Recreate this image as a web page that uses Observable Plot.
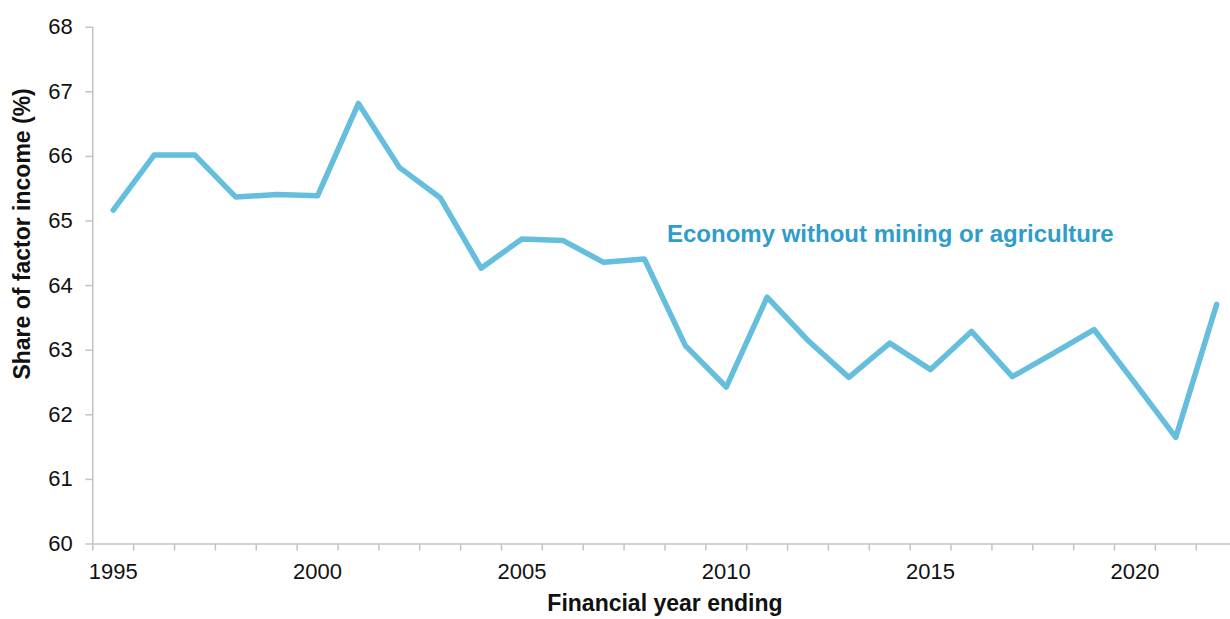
<!DOCTYPE html>
<html>
<head>
<meta charset="utf-8">
<script src="https://cdn.jsdelivr.net/npm/d3@7"></script>
<script src="https://cdn.jsdelivr.net/npm/@observablehq/plot@0.6"></script>
<style>
  html, body { margin: 0; padding: 0; background: #fff; }
  #chart { width: 1230px; height: 619px; overflow: hidden; }
</style>
</head>
<body>
<div id="chart"></div>
<script>
const years = [1995,1996,1997,1998,1999,2000,2001,2002,2003,2004,2005,2006,2007,2008,2009,2010,2011,2012,2013,2014,2015,2016,2017,2018,2019,2020,2021,2022];
const shares = [65.17,66.02,66.02,65.37,65.41,65.39,66.82,65.83,65.36,64.27,64.72,64.70,64.36,64.41,63.07,62.43,63.82,63.15,62.58,63.11,62.70,63.29,62.59,62.95,63.32,62.49,61.65,63.71];
const yTicks = [60,61,62,63,64,65,66,67,68];
const xTickLabels = [1995,2000,2005,2010,2015,2020];
const seriesLabel = [{text: "Economy without mining or agriculture", year: 2008.55, value: 64.79}];
const yTitle = "Share of factor income (%)";
const xTitle = "Financial year ending";

const rows = years.map((y, i) => ({year: y, share: shares[i]}));
const boundaries = [years[0] - 0.5, ...years.map(y => y + 0.5)];
const xMin = boundaries[0], xMax = boundaries[boundaries.length - 1];

const axisColor = "#c3c3c3";
const font = "'Liberation Sans', Arial, sans-serif";

const chart = Plot.plot({
  width: 1230,
  height: 619,
  marginTop: 26.7,
  marginBottom: 75.5,
  marginLeft: 92.3,
  marginRight: 0,
  style: {fontFamily: font, background: "#fff", overflow: "visible"},
  x: {domain: [xMin, xMax], range: [92.3, 1236.6]},
  y: {domain: [60, 68]},
  marks: [
    Plot.axisY({ticks: yTicks, tickSize: 7, tickPadding: 13, stroke: axisColor, strokeWidth: 1.5, fontSize: 22, fill: "#111", label: null, tickFormat: d => String(d)}),
    Plot.axisX({ticks: boundaries, tickSize: 7, stroke: axisColor, strokeWidth: 1.5, text: null, label: null}),
    Plot.axisX({ticks: xTickLabels, tickSize: 0, tickPadding: 19, fontSize: 22, fill: "#111", label: null, tickFormat: d => String(d)}),
    Plot.ruleY([60], {stroke: axisColor, strokeWidth: 1.5}),
    Plot.ruleX([xMin], {y1: 60, y2: 68, stroke: axisColor, strokeWidth: 1.5}),
    Plot.line(rows, {x: "year", y: "share", stroke: "#66bedd", strokeWidth: 5.5, strokeLinejoin: "round", strokeLinecap: "round"}),
    Plot.text(seriesLabel, {x: "year", y: "value", text: "text", textAnchor: "start", fill: "#2e9dca", fontSize: 24, fontWeight: "bold"}),
    Plot.text([xTitle], {x: (xMin + xMax) / 2, frameAnchor: "bottom", dy: 67, fontSize: 23, fontWeight: "bold", fill: "#111"}),
    Plot.text([yTitle], {y: 64.8, frameAnchor: "left", textAnchor: "middle", dx: -70, rotate: -90, fontSize: 23, fontWeight: "bold", fill: "#111"})
  ]
});
document.getElementById("chart").appendChild(chart);
</script>
</body>
</html>
